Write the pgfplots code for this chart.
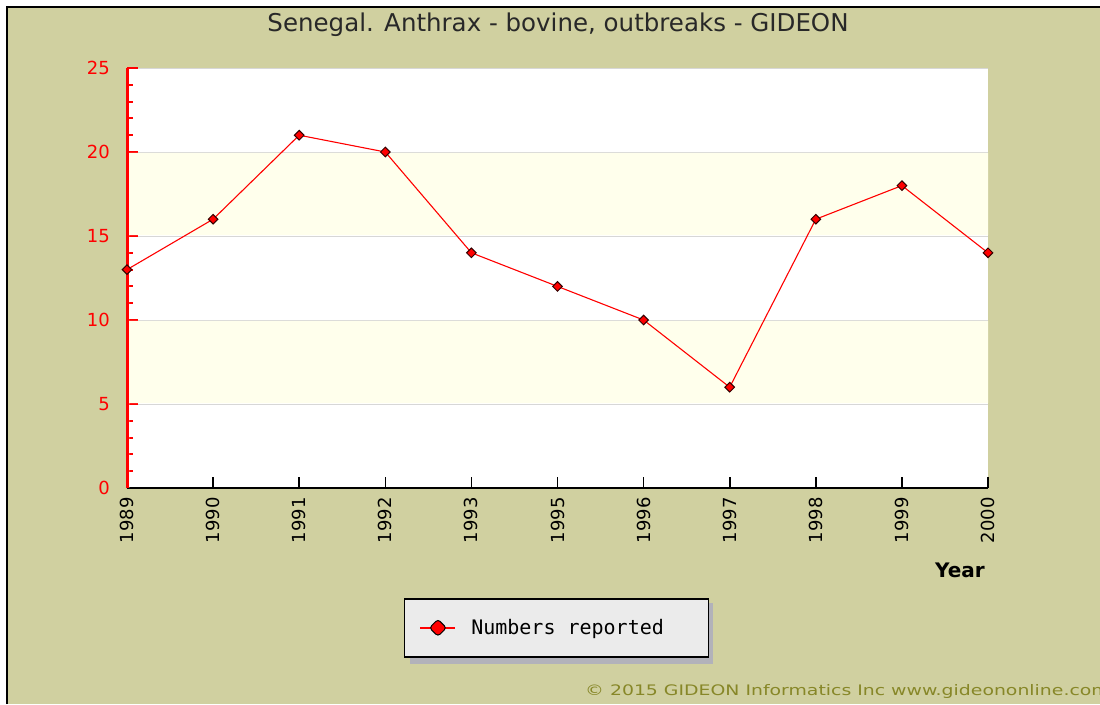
\documentclass[border=0pt]{standalone}
\usepackage{fontspec}
\setmainfont{DejaVu Sans}
\newfontfamily\legfont{DejaVu Sans Mono}
\newfontfamily\copyfont[FakeStretch=1.3]{DejaVu Sans}
\usepackage{pgfplots}
\pgfplotsset{compat=1.18}

\definecolor{bgtan}{RGB}{208,208,160}
\definecolor{band}{RGB}{255,255,236}
\definecolor{gridgray}{RGB}{215,215,215}
\definecolor{legfill}{RGB}{235,235,235}
\definecolor{shadow}{RGB}{178,178,186}
\definecolor{copy}{RGB}{135,135,40}
\definecolor{mkdark}{RGB}{50,0,0}

\begin{document}
\begin{tikzpicture}
\useasboundingbox (0pt,0pt) rectangle (1100pt,-704pt);
\fill[white] (0pt,0pt) rectangle (1100pt,-704pt);
\fill[bgtan] (7pt,-7pt) rectangle (1100pt,-704pt);
\draw[black, line width=2pt] (7pt,-704pt) -- (7pt,-7pt) -- (1100pt,-7pt);
% legend shadow
\fill[shadow] (410pt,-603pt) rectangle (713pt,-664pt);

\node[font=\fontsize{24.5}{28}\selectfont, text={rgb,255:red,40;green,40;blue,40}] at (558pt,-25pt)
  {Senegal. Anthrax - bovine, outbreaks - GIDEON};

\begin{axis}[
    at={(127pt,-488pt)}, anchor=south west,
    scale only axis,
    width=861pt, height=420pt,
    axis background/.style={fill=white},
    axis lines=left,
    axis line style={-},
    x axis line style={black, line width=2pt},
    y axis line style={red, line width=3pt},
    xmin=0, xmax=10, ymin=0, ymax=25,
    xtick={0,...,10},
    xticklabels={1989,1990,1991,1992,1993,1995,1996,1997,1998,1999,2000},
    ytick={0,5,...,25},
    minor y tick num=4,
    tick align=inside,
    major tick length=11pt,
    minor tick length=6pt,
    xtick style={black, line width=1.6pt},
    ytick style={red, line width=2pt},
    minor y tick style={red, line width=2pt},
    ymajorgrids=true,
    grid style={gridgray, line width=1pt},
    /pgf/number format/assume math mode=true,
    xticklabel style={yshift=-9pt, rotate=90, anchor=east, inner sep=0pt,
        font=\fontsize{18}{20}\selectfont, text=black},
    yticklabel style={inner sep=0pt, xshift=-17pt, anchor=east,
        font=\fontsize{18}{20}\selectfont, text=red},
    xlabel={\textbf{Year}},
    xlabel style={at={(axis description cs:0.9965,-0.195)}, anchor=east,
        inner sep=0pt, font=\fontsize{20}{24}\selectfont},
    legend style={at={(axis description cs:0.4988,-0.262)}, anchor=north,
        draw=black, line width=1.5pt, fill=legfill,
        inner xsep=15pt, inner ysep=20pt,
        nodes={inner sep=0pt, font=\legfont\fontsize{20}{24}\selectfont},
        column sep=15pt},
    legend cell align=left,
]
\addplot[draw=none, fill=band, forget plot]
  coordinates {(0.025,5.05) (10,5.05) (10,9.95) (0.025,9.95)} \closedcycle;
\addplot[draw=none, fill=band, forget plot]
  coordinates {(0.025,15.05) (10,15.05) (10,19.95) (0.025,19.95)} \closedcycle;

\addplot[red, line width=1.1pt, mark=square*,
    mark size=3.4pt,
    mark options={rotate=45, fill=red, draw=mkdark, line width=1pt},
    legend image code/.code={
        \draw[draw=red, line width=1.6pt] (0pt,0pt) -- (35pt,0pt);
        \draw[fill=red, draw=black, line width=1pt, rounded corners=3pt]
            (17.5pt,8.5pt) -- (26pt,0pt) -- (17.5pt,-8.5pt) -- (9pt,0pt) -- cycle;
    }]
  coordinates {
    (0,13) (1,16) (2,21) (3,20) (4,14) (5,12)
    (6,10) (7,6) (8,16) (9,18) (10,14)
  };
\addlegendentry{\makebox[222pt][l]{Numbers reported}}
\end{axis}

\node[anchor=west, text=copy, font=\copyfont\fontsize{14.5}{18}\selectfont, inner sep=0pt]
  at (585pt,-691pt) {© 2015 GIDEON Informatics Inc www.gideononline.com};
\end{tikzpicture}
\end{document}
